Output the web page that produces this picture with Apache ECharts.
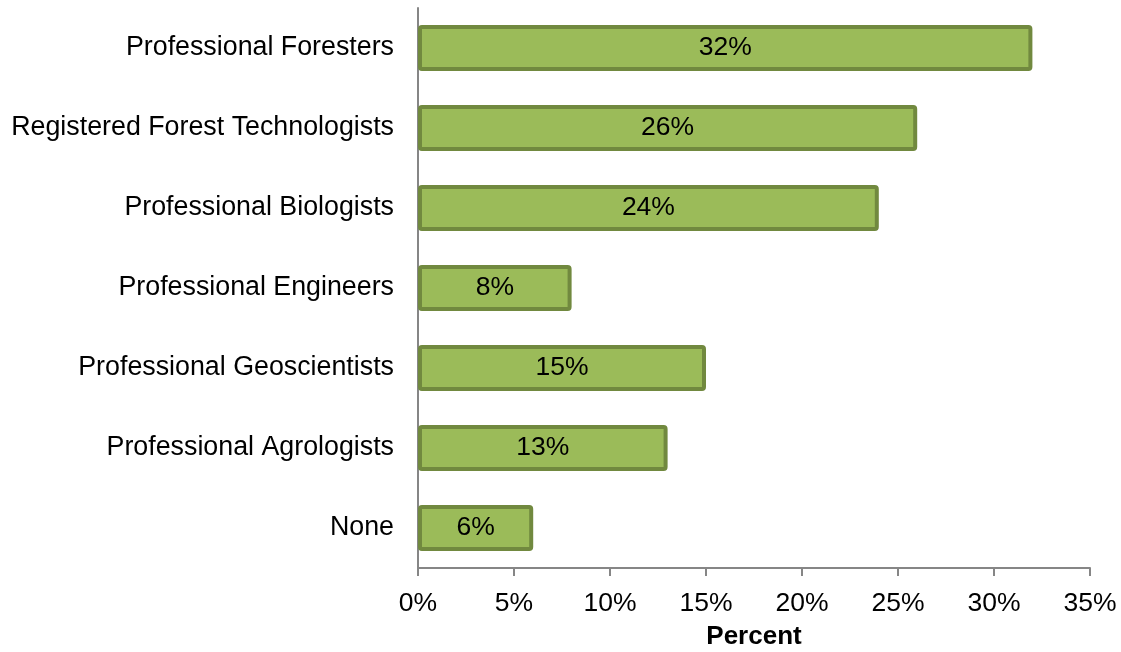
<!DOCTYPE html>
<html>
<head>
<meta charset="utf-8">
<script src="https://cdn.jsdelivr.net/npm/echarts@6/dist/echarts.min.js"></script>
<style>
  html, body { margin: 0; padding: 0; background: #fff; }
  #chart { width: 1121px; height: 652px; }
</style>
</head>
<body>
<div id="chart"></div>
<script>
// categories, top to bottom
const categories = [
  'Professional Foresters',
  'Registered Forest Technologists',
  'Professional Biologists',
  'Professional Engineers',
  'Professional Geoscientists',
  'Professional Agrologists',
  'None'
]
// percent values
const values = [32, 26, 24, 8, 15, 13, 6]

const font = 'Liberation Sans, Arial, sans-serif'
const chart = echarts.init(document.getElementById('chart'))

chart.setOption({
  animation: false,
  textStyle: { fontFamily: font },
  grid: { left: 418, right: 31, top: 8, bottom: 84, containLabel: false, outerBoundsMode: 'none' },
  xAxis: {
    type: 'value',
    min: 0,
    max: 35,
    interval: 5,
    name: 'Percent',
    nameLocation: 'middle',
    nameGap: 56,
    nameTextStyle: { fontSize: 26, fontWeight: 'bold', color: '#000', fontFamily: font },
    axisLine: { show: true, lineStyle: { color: '#868686', width: 2 } },
    axisTick: { show: true, length: 8, lineStyle: { color: '#868686', width: 2 } },
    axisLabel: { formatter: '{value}%', fontSize: 26.5, color: '#000', margin: 22, fontFamily: font },
    splitLine: { show: false }
  },
  yAxis: {
    type: 'category',
    inverse: true,
    data: categories,
    axisLine: { show: true, lineStyle: { color: '#868686', width: 2 } },
    axisTick: { show: false },
    axisLabel: { fontSize: 26.8, color: '#000', margin: 24, fontFamily: font }
  },
  series: [
    {
      type: 'bar',
      data: values,
      barWidth: 46,
      itemStyle: {
        color: '#9BBB59',
        borderColor: '#71893F',
        borderWidth: 4,
        borderRadius: 2
      },
      label: {
        show: true,
        position: 'inside',
        formatter: '{c}%',
        fontSize: 26.5,
        color: '#000',
        fontFamily: font
      }
    }
  ]
})
</script>
</body>
</html>
